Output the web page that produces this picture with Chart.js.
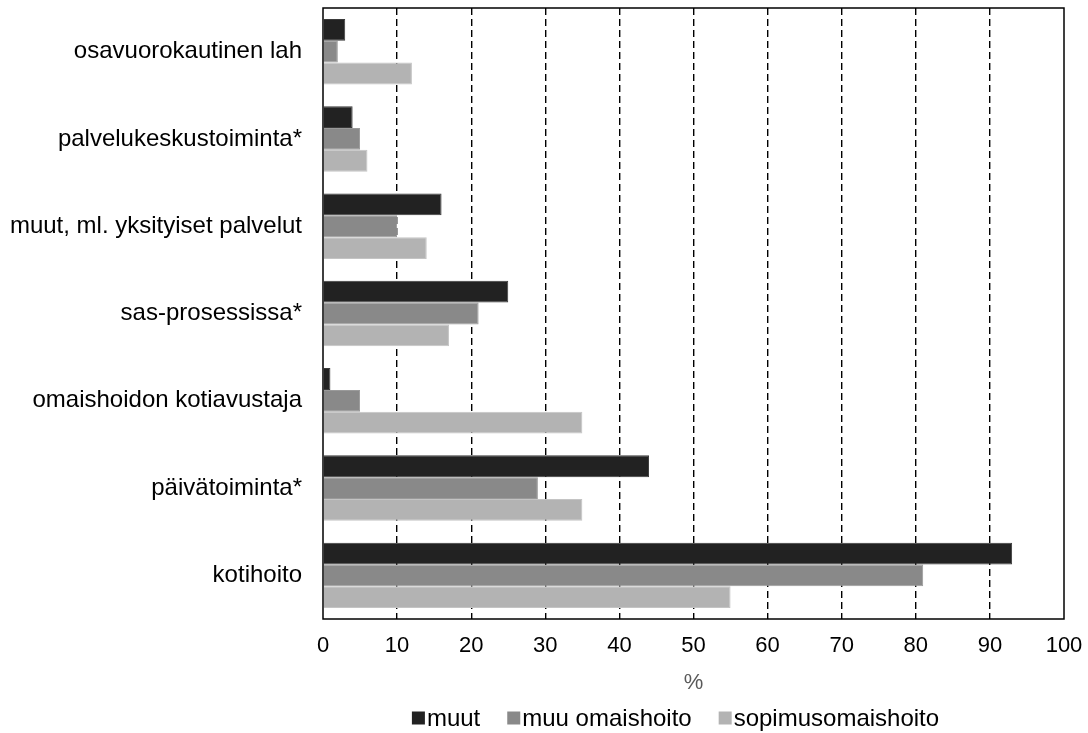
<!DOCTYPE html>
<html>
<head>
<meta charset="utf-8">
<script src="https://cdn.jsdelivr.net/npm/chart.js@4/dist/chart.umd.min.js"></script>
<style>
    html, body { margin: 0; padding: 0; background: #ffffff; }
    #wrap { width: 1088px; height: 733px; position: relative; }
</style>
</head>
<body>
<div id="wrap"><canvas id="barChart"></canvas></div>
<script>
const categories = [
    'osavuorokautinen lah',
    'palvelukeskustoiminta*',
    'muut, ml. yksityiset palvelut',
    'sas-prosessissa*',
    'omaishoidon kotiavustaja',
    'päivätoiminta*',
    'kotihoito'
];
const muut = [3, 4, 16, 25, 1, 44, 93];
const muuOmaishoito = [2, 5, 10, 21, 5, 29, 81];
const sopimusomaishoito = [12, 6, 14, 17, 35, 35, 55];
const xTicks = [0, 10, 20, 30, 40, 50, 60, 70, 80, 90, 100];

const FONT = '"Liberation Sans", Arial, sans-serif';
Chart.defaults.font.family = FONT;
Chart.defaults.color = '#000000';

// solid frame round the plot area
const frame = {
    id: 'frame',
    afterDatasetsDraw(chart) {
        const a = chart.chartArea;
        const ctx = chart.ctx;
        ctx.save();
        ctx.strokeStyle = '#000000';
        ctx.lineWidth = 1.5;
        ctx.strokeRect(a.left, a.top, a.right - a.left, a.bottom - a.top);
        ctx.restore();
    }
};

// legend drawn under the axis title: small square + tight text
const bottomLegend = {
    id: 'bottomLegend',
    afterDraw(chart) {
        const ctx = chart.ctx;
        const a = chart.chartArea;
        const box = 13, gap = 2, itemGap = 27, y = 718;
        ctx.save();
        ctx.font = '24px ' + FONT;
        ctx.textBaseline = 'middle';
        const items = chart.data.datasets.map(ds => ({
            text: ds.label,
            color: ds.backgroundColor,
            w: box + gap + ctx.measureText(ds.label).width
        }));
        const total = items.reduce((s, it) => s + it.w, 0) + itemGap * (items.length - 1);
        let x = (a.left + a.right) / 2 - 18 - total / 2;
        items.forEach(it => {
            ctx.fillStyle = it.color;
            ctx.fillRect(x, y - box / 2, box, box);
            ctx.fillStyle = '#000000';
            ctx.fillText(it.text, x + box + gap, y + 1);
            x += it.w + itemGap;
        });
        ctx.restore();
    }
};

const ctx = document.getElementById('barChart').getContext('2d');
new Chart(ctx, {
    type: 'bar',
    data: {
        labels: categories,
        datasets: [
            { label: 'muut', data: muut, backgroundColor: '#222222', borderColor: '#3a3a3a', borderWidth: 1 },
            { label: 'muu omaishoito', data: muuOmaishoito, backgroundColor: '#898989', borderColor: '#9a9a9a', borderWidth: 1 },
            { label: 'sopimusomaishoito', data: sopimusomaishoito, backgroundColor: '#b3b3b3', borderColor: '#c4c4c4', borderWidth: 1 }
        ]
    },
    options: {
        indexAxis: 'y',
        responsive: true,
        maintainAspectRatio: false,
        animation: false,
        layout: { padding: { top: 8, right: 24, bottom: 35, left: 0 } },
        categoryPercentage: 0.75,
        barPercentage: 1,
        plugins: {
            legend: { display: false },
            tooltip: { enabled: false }
        },
        scales: {
            x: {
                min: 0,
                max: 100,
                afterBuildTicks: (scale) => { scale.ticks = xTicks.map(v => ({ value: v })); },
                afterFit: (scale) => {
                    scale.height = 79;
                    scale.paddingLeft = 0;
                    scale.paddingRight = 0;
                },
                ticks: { font: { size: 22 }, color: '#000000', padding: 14 },
                grid: {
                    color: (c) => (c.tick && (c.tick.value === 0 || c.tick.value === 100)) ? 'rgba(0,0,0,0)' : '#000000',
                    lineWidth: 1.4,
                    drawTicks: false
                },
                border: { display: false, dash: [7, 4] },
                title: {
                    display: true,
                    text: '%',
                    color: '#595959',
                    font: { size: 22 },
                    padding: { top: 0, bottom: 2 }
                }
            },
            y: {
                afterFit: (scale) => {
                    scale.width = 323;
                    scale.paddingTop = 0;
                    scale.paddingBottom = 0;
                },
                ticks: { font: { size: 24 }, color: '#000000', padding: 21 },
                grid: { display: false, drawTicks: false },
                border: { display: false }
            }
        }
    },
    plugins: [frame, bottomLegend]
});
</script>
</body>
</html>
